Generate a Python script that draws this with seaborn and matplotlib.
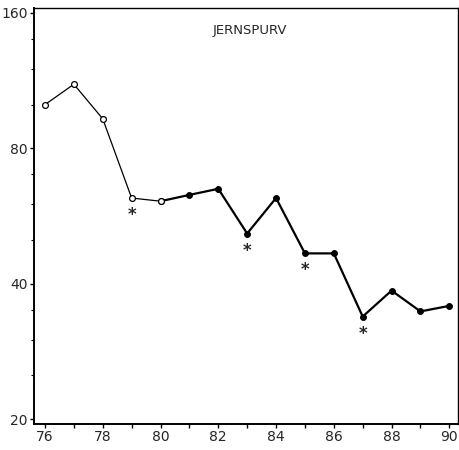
import matplotlib
matplotlib.use("Agg")
import matplotlib.pyplot as plt
from matplotlib.ticker import FixedLocator, FixedFormatter, NullFormatter
import seaborn as sns
import pandas as pd

# Index values per year
years = [76, 77, 78, 79, 80, 81, 82, 83, 84, 85, 86, 87, 88, 89, 90]
index = [100, 111, 93, 62, 61, 63, 65, 51.7, 62, 46.7, 46.7, 33.8, 38.6, 34.7, 35.7]
# Years flagged with an asterisk
flagged = [79, 83, 85, 87]
split_year = 80

title = "JERNSPURV"
y_major = [20, 40, 80, 160]
y_minor = [25, 30, 35, 50, 60, 70, 100, 120, 140]
x_labels = [76, 78, 80, 82, 84, 86, 88, 90]

df = pd.DataFrame({"year": years, "index": index})
early = df[df["year"] <= split_year]
late = df[df["year"] >= split_year]

sns.set_style("ticks")
plt.rcParams["font.family"] = ["DejaVu Sans"]

fig = plt.figure(figsize=(4.59, 4.50), dpi=100)
ax = fig.add_axes([34 / 459, 1 - 424 / 450, 424 / 459, 416 / 450])

sns.lineplot(data=late, x="year", y="index", ax=ax, color="black",
             linewidth=1.6, marker="o", markersize=4.2,
             markerfacecolor="black", markeredgecolor="black")
sns.lineplot(data=early, x="year", y="index", ax=ax, color="black",
             linewidth=0.9, marker="o", markersize=4.2,
             markerfacecolor="white", markeredgecolor="black",
             markeredgewidth=0.9)

ax.set_yscale("log", base=2)
ax.set_ylim(19.5, 164)
ax.set_xlim(75.62, 90.3)

ax.yaxis.set_major_locator(FixedLocator(y_major))
ax.yaxis.set_major_formatter(FixedFormatter([str(v) for v in y_major]))
ax.yaxis.set_minor_locator(FixedLocator(y_minor))
ax.yaxis.set_minor_formatter(NullFormatter())

ax.set_xticks(years)
ax.set_xticklabels([str(y) if y in x_labels else "" for y in years])

ax.tick_params(axis="both", which="major", direction="out", length=3,
               width=1.0, labelsize=10, pad=1.5, color="black")
ax.tick_params(axis="y", which="minor", direction="out", length=2,
               width=0.8, color="black")

for s in ax.spines.values():
    s.set_visible(True)
    s.set_linewidth(1.0)
    s.set_color("black")
ax.spines["left"].set_linewidth(1.4)
ax.spines["bottom"].set_linewidth(1.4)

ax.set_xlabel("")
ax.set_ylabel("")

ax.text(0.51, 0.945, title, transform=ax.transAxes, ha="center",
        va="center", fontsize=9.5)

for yr, val in zip(years, index):
    if yr in flagged:
        ax.annotate("*", xy=(yr, val), xytext=(0, -17),
                    textcoords="offset pixels", ha="center", va="center",
                    fontsize=12, fontweight="bold")

fig.savefig("out.png", dpi=100)
